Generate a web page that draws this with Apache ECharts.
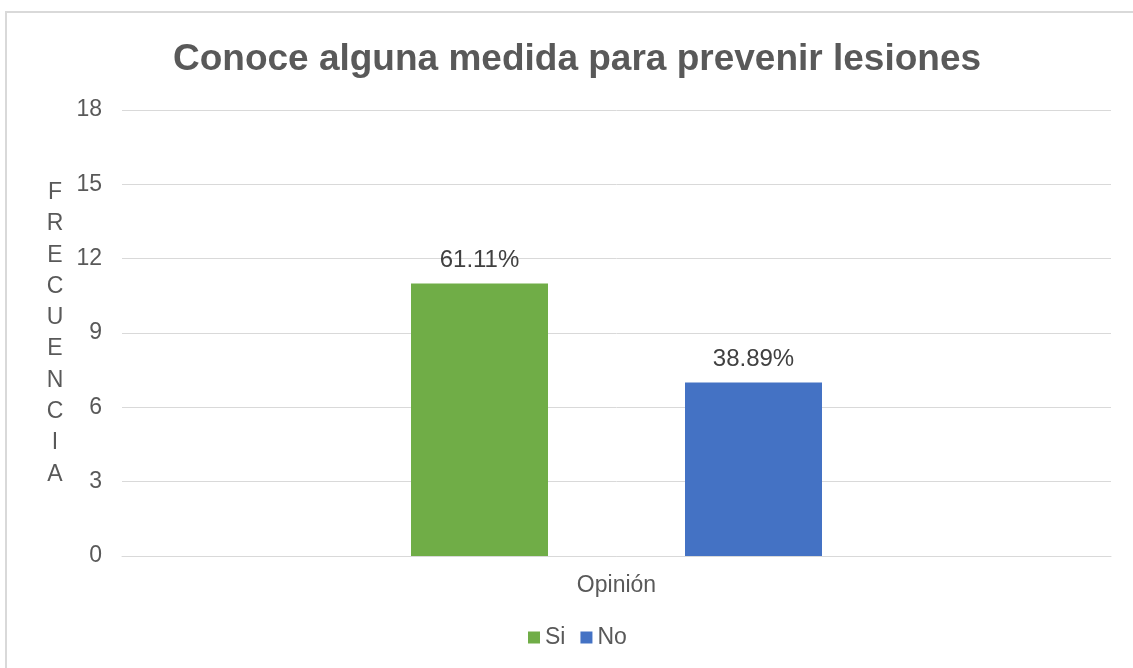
<!DOCTYPE html>
<html>
<head>
<meta charset="utf-8">
<script src="https://cdn.jsdelivr.net/npm/echarts@6/dist/echarts.min.js"></script>
<style>
  html, body { margin: 0; padding: 0; background: #ffffff; }
  #chart { width: 1133px; height: 668px; }
</style>
</head>
<body>
<div id="chart"></div>
<script>
// Survey answers: how many respondents know a measure to prevent injuries
const categories = ['Opinión'];
const seriesNames = ['Si', 'No'];
const siValues = [11];
const noValues = [7];
const siLabels = ['61.11%'];
const noLabels = ['38.89%'];
const yTicks = { min: 0, max: 18, interval: 3 };
const colors = ['#70AD47', '#4472C4'];

const textColor = '#595959';
const fontFamily = 'Liberation Sans, Arial, sans-serif';

const chart = echarts.init(document.getElementById('chart'));

function barSeries(name, values, labels, color) {
  return {
    name: name,
    type: 'bar',
    data: values,
    barWidth: 137,
    barGap: '100%',
    itemStyle: { color: color },
    label: {
      show: true,
      position: 'top',
      distance: 11,
      color: '#404040',
      fontSize: 24,
      fontFamily: fontFamily,
      formatter: (p) => labels[p.dataIndex]
    }
  };
}

chart.setOption({
  animation: false,
  textStyle: { fontFamily: fontFamily },
  title: {
    text: 'Conoce alguna medida para prevenir lesiones',
    left: 572,
    textAlign: 'center',
    top: 36,
    textStyle: { fontSize: 37, fontWeight: 'bold', color: textColor, fontFamily: fontFamily }
  },
  graphic: [{
    type: 'rect',
    shape: { x: 6, y: 12, width: 1140, height: 670 },
    style: { fill: 'none', stroke: '#D9D9D9', lineWidth: 2 },
    silent: true
  }, {
    type: 'text',
    x: 55,
    y: 177,
    style: {
      text: 'F\nR\nE\nC\nU\nE\nN\nC\nI\nA',
      fontSize: 23,
      lineHeight: 31.3,
      fill: textColor,
      align: 'center',
      fontFamily: fontFamily
    }
  }],
  legend: {
    data: seriesNames,
    bottom: 14,
    left: 523,
    itemWidth: 12,
    itemHeight: 12,
    itemGap: 15,
    icon: 'rect',
    textStyle: { fontSize: 23, color: textColor }
  },
  grid: { left: 122, right: 22, top: 110, bottom: 112, containLabel: false },
  xAxis: {
    type: 'category',
    data: categories,
    axisLine: { lineStyle: { color: '#D9D9D9', width: 1 } },
    axisTick: { show: false },
    axisLabel: { fontSize: 23, color: textColor, margin: 18 }
  },
  yAxis: {
    type: 'value',
    min: yTicks.min,
    max: yTicks.max,
    interval: yTicks.interval,
    axisLine: { show: false },
    axisTick: { show: false },
    axisLabel: { fontSize: 23, color: textColor, margin: 20 },
    splitLine: { lineStyle: { color: '#D9D9D9', width: 1 } }
  },
  series: [
    barSeries(seriesNames[0], siValues, siLabels, colors[0]),
    barSeries(seriesNames[1], noValues, noLabels, colors[1])
  ]
});
</script>
</body>
</html>
